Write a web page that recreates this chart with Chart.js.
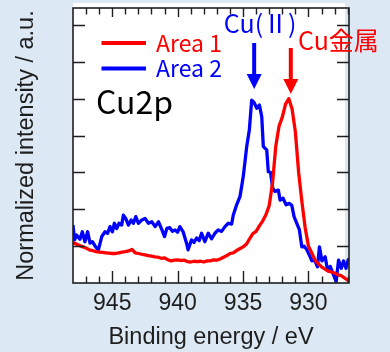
<!DOCTYPE html>
<html>
<head>
<meta charset="utf-8">
<script src="https://cdn.jsdelivr.net/npm/chart.js@4.4.1/dist/chart.umd.min.js"></script>
<style>
  html, body { margin: 0; padding: 0; background: #dde8f5; }
  canvas { display: block; }
</style>
</head>
<body>
<canvas id="xpsChart" width="390" height="352"></canvas>
<script>
// Cu2p XPS spectra, intensity normalised
const redEnergy = [
  948.0, 947.75, 947.5, 947.25, 947.0, 946.75, 946.5, 946.25, 946.0, 945.75,
  945.5, 945.25, 945.0, 944.75, 944.5, 944.25, 944.0, 943.75, 943.5, 943.25,
  943.0, 942.75, 942.5, 942.25, 942.0, 941.75, 941.5, 941.25, 941.0, 940.75,
  940.5, 940.25, 940.0, 939.75, 939.5, 939.25, 939.0, 938.75, 938.5, 938.25,
  938.0, 937.75, 937.5, 937.25, 937.0, 936.75, 936.5, 936.25, 936.0, 935.75,
  935.5, 935.25, 935.0, 934.75, 934.5, 934.25, 934.0, 933.75, 933.5, 933.25,
  933.0, 932.75, 932.5, 932.25, 932.0, 931.75, 931.5, 931.25, 931.0, 930.75,
  930.5, 930.25, 930.0, 929.75, 929.5, 929.25, 929.0, 928.75, 928.5, 928.25,
  928.0, 927.75, 927.5, 927.25, 927.0, 926.9
];
const redIntensity = [
  1.09, 1.06, 1.02, 0.98, 0.95, 0.90, 0.88, 0.85, 0.84, 0.83,
  0.82, 0.81, 0.80, 0.80, 0.82, 0.84, 0.85, 0.87, 0.91, 0.82,
  0.80, 0.78, 0.76, 0.74, 0.73, 0.71, 0.70, 0.67, 0.68, 0.63,
  0.60, 0.62, 0.63, 0.61, 0.62, 0.58, 0.57, 0.59, 0.58, 0.59,
  0.57, 0.60, 0.60, 0.63, 0.62, 0.65, 0.70, 0.74, 0.80, 0.82,
  0.88, 0.93, 0.98, 1.05, 1.20, 1.34, 1.40, 1.55, 1.68, 1.85,
  2.10, 2.70, 3.70, 4.25, 4.50, 4.85, 5.00, 4.72, 4.10, 3.00,
  2.20, 1.50, 1.00, 0.82, 0.62, 0.52, 0.44, 0.38, 0.32, 0.30,
  0.27, 0.22, 0.20, 0.14, 0.08, 0.05
];

const blueEnergy = [
  948.0, 947.88, 947.73, 947.47, 947.29, 947.09, 946.88, 946.7, 946.52, 946.27,
  946.06, 945.8, 945.55, 945.35, 945.17, 944.99, 944.84, 944.66, 944.48, 944.28,
  944.15, 943.97, 943.76, 943.56, 943.38, 943.2, 943.0, 942.74, 942.49, 942.23,
  941.98, 941.72, 941.46, 941.2, 941.0, 940.83, 940.6, 940.4, 940.2, 940.0,
  939.83, 939.58, 939.32, 939.2, 938.94, 938.75, 938.55, 938.35, 938.17, 937.92,
  937.66, 937.4, 937.15, 936.9, 936.64, 936.38, 936.13, 935.87, 935.75, 935.49,
  935.23, 934.98, 934.72, 934.52, 934.34, 934.16, 933.95, 933.75, 933.57, 933.45,
  933.19, 933.07, 932.9, 932.73, 932.55, 932.3, 932.17, 931.94, 931.71, 931.46,
  931.27, 931.1, 930.89, 930.69, 930.51, 930.33, 930.12, 929.87, 929.74, 929.56,
  929.31, 929.16, 928.97, 928.72, 928.54, 928.34, 928.08, 927.88, 927.7, 927.49,
  927.32, 927.13, 926.93
];
const blueIntensity = [
  1.57, 1.17, 1.30, 1.19, 1.39, 1.12, 1.39, 1.08, 1.12, 0.98,
  0.90, 1.26, 1.39, 1.35, 1.53, 1.39, 1.62, 1.48, 1.62, 1.57,
  1.84, 1.75, 1.57, 1.71, 1.62, 1.80, 1.62, 1.71, 1.75, 1.62,
  1.66, 1.53, 1.66, 1.44, 1.26, 1.48, 1.50, 1.40, 1.44, 1.38,
  1.53, 1.39, 1.08, 0.90, 1.17, 1.10, 1.22, 1.15, 1.35, 1.12,
  1.35, 1.20, 1.35, 1.44, 1.40, 1.53, 1.62, 1.60, 1.84, 2.12,
  2.35, 2.90, 3.70, 4.15, 4.96, 4.90, 4.74, 4.83, 4.51, 3.70,
  3.61, 3.02, 3.00, 2.57, 2.48, 2.52, 2.25, 2.30, 2.12, 2.16,
  2.10, 1.80, 1.62, 1.44, 0.98, 1.00, 0.90, 0.71, 0.60, 0.65,
  0.44, 0.98, 0.60, 0.71, 0.35, 0.45, 0.22, 0.04, 0.62, 0.40,
  0.60, 0.40, 0.67
];

const seriesNames = ["Area 1", "Area 2"];
const seriesColors = ["#ff0000", "#0000ff"];
const xTickValues = [945, 940, 935, 930];
const yTickValues = [1, 2, 3, 4, 5, 6, 7];
// peak markers: [label, energy, colour]
const peakLabels = [["Cu(Ⅱ)", 934.15, "#0000ff"], ["Cu金属", 931.35, "#ff0000"]];

const axisFont = "'Liberation Sans', Arial, sans-serif";
const jpFont = "'Noto Sans CJK JP', 'Noto Sans', sans-serif";
const ink = "#1e1e1e";

function toPoints(xs, ys) {
  return xs.map((x, i) => ({ x: x, y: ys[i] }));
}

function arrowDown(ctx, x, y0, y1, color) {
  ctx.save();
  ctx.strokeStyle = color;
  ctx.fillStyle = color;
  ctx.lineWidth = 4;
  ctx.beginPath();
  ctx.moveTo(x, y0);
  ctx.lineTo(x, y1 - 12);
  ctx.stroke();
  ctx.beginPath();
  ctx.moveTo(x - 7.5, y1 - 15);
  ctx.lineTo(x + 7.5, y1 - 15);
  ctx.lineTo(x, y1);
  ctx.closePath();
  ctx.fill();
  ctx.restore();
}

const framePlugin = {
  id: "frame",
  beforeDatasetsDraw(chart) {
    const { ctx, chartArea: a } = chart;
    ctx.save();
    ctx.fillStyle = "#ffffff";
    ctx.fillRect(a.left, a.top - 5, a.right - a.left - 4, a.bottom - a.top + 5);
    ctx.restore();
  },
  afterDatasetsDraw(chart) {
    const { ctx, chartArea: a } = chart;
    const xs = chart.scales.x;
    const ys = chart.scales.y;
    ctx.save();
    ctx.strokeStyle = ink;
    ctx.lineWidth = 1.6;
    ctx.strokeRect(a.left, a.top, a.right - a.left, a.bottom - a.top);

    // x ticks, bottom and top, inward
    ctx.lineWidth = 1.4;
    ctx.beginPath();
    for (let e = 927; e <= 947; e++) {
      const px = Math.round(xs.getPixelForValue(e)) + 0.5;
      const len = e % 5 === 0 ? 12 : 6.5;
      ctx.moveTo(px, a.bottom);
      ctx.lineTo(px, a.bottom - len);
      ctx.moveTo(px, a.top);
      ctx.lineTo(px, a.top + (e % 5 === 0 ? 9 : 6.5));
    }
    // y ticks, left and right
    yTickValues.forEach((v) => {
      const py = Math.round(ys.getPixelForValue(v)) + 0.5;
      ctx.moveTo(a.left, py);
      ctx.lineTo(a.left + 12, py);
      ctx.moveTo(a.right, py);
      ctx.lineTo(a.right - 12, py);
    });
    ctx.stroke();
    ctx.restore();

    // legend
    ctx.save();
    ctx.font = "23px " + jpFont;
    ctx.textBaseline = "middle";
    seriesNames.forEach((name, i) => {
      const y = 43 + i * 25.5;
      ctx.strokeStyle = seriesColors[i];
      ctx.lineWidth = 4;
      ctx.beginPath();
      ctx.moveTo(101.5, y);
      ctx.lineTo(146, y);
      ctx.stroke();
      ctx.fillStyle = seriesColors[i];
      ctx.fillText(name, 156, y);
    });

    ctx.fillStyle = "#000000";
    ctx.font = "32px " + jpFont;
    ctx.textBaseline = "alphabetic";
    ctx.fillText("Cu2p", 96, 114);

    // peak arrows and labels
    const blueX = xs.getPixelForValue(peakLabels[0][1]);
    const redX = xs.getPixelForValue(peakLabels[1][1]);
    arrowDown(ctx, blueX, 43, 89, peakLabels[0][2]);
    arrowDown(ctx, redX, 48, 94, peakLabels[1][2]);
    ctx.font = "25px " + jpFont;
    ctx.fillStyle = peakLabels[0][2];
    ctx.textAlign = "center";
    ctx.fillText(peakLabels[0][0], blueX + 6, 33);
    ctx.fillStyle = peakLabels[1][2];
    ctx.textAlign = "left";
    ctx.fillText(peakLabels[1][0], 298, 50);
    ctx.restore();
  },
};

new Chart(document.getElementById("xpsChart"), {
  type: "line",
  data: {
    datasets: [
      {
        label: seriesNames[0],
        data: toPoints(redEnergy, redIntensity),
        borderColor: seriesColors[0],
        borderWidth: 3.3,
        pointRadius: 0,
        tension: 0,
        borderJoinStyle: "round",
      },
      {
        label: seriesNames[1],
        data: toPoints(blueEnergy, blueIntensity),
        borderColor: seriesColors[1],
        borderWidth: 3.3,
        pointRadius: 0,
        tension: 0,
        borderJoinStyle: "round",
      },
    ],
  },
  options: {
    responsive: false,
    animation: false,
    events: [],
    layout: { padding: { top: 8, right: 41, left: 0, bottom: 0 } },
    plugins: {
      legend: { display: false },
      tooltip: { enabled: false },
    },
    scales: {
      x: {
        type: "linear",
        reverse: true,
        min: 926.9,
        max: 948,
        afterBuildTicks: (scale) => {
          scale.ticks = xTickValues.map((v) => ({ value: v }));
        },
        afterFit: (scale) => {
          scale.height = 69;
        },
        grid: { display: false, drawTicks: false },
        border: { display: false },
        ticks: {
          padding: 7,
          maxRotation: 0,
          color: ink,
          font: { family: axisFont, size: 23 },
        },
        title: {
          display: true,
          text: "Binding energy / eV",
          color: ink,
          padding: { top: 0, bottom: 0 },
          font: { family: axisFont, size: 23.5 },
        },
      },
      y: {
        min: 0,
        max: 7.46,
        afterFit: (scale) => {
          scale.width = 73;
        },
        grid: { display: false, drawTicks: false },
        border: { display: false },
        ticks: { display: false },
        title: {
          display: true,
          text: "Normalized intensity / a.u.",
          color: ink,
          padding: { top: 12, bottom: 0 },
          font: { family: axisFont, size: 23.5 },
        },
      },
    },
  },
  plugins: [framePlugin],
});
</script>
</body>
</html>
